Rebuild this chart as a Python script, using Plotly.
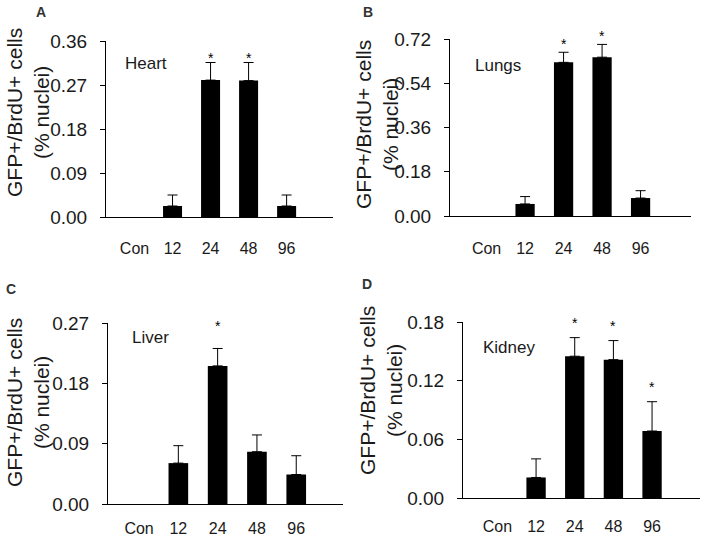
import plotly.graph_objects as go

W, H = 706, 539

# data
cats = ["Con", "12", "24", "48", "96"]

heart_mean = [0, 0.0225, 0.280, 0.279, 0.0225]
heart_err = [0, 0.0225, 0.036, 0.037, 0.0225]
heart_star = [False, False, True, True, False]

lungs_mean = [0, 0.049, 0.625, 0.646, 0.073]
lungs_err = [0, 0.030, 0.041, 0.052, 0.030]
lungs_star = [False, False, True, True, False]

liver_mean = [0, 0.061, 0.206, 0.078, 0.044]
liver_err = [0, 0.026, 0.026, 0.025, 0.028]
liver_star = [False, False, True, False, False]

kidney_mean = [0, 0.021, 0.145, 0.1415, 0.0685]
kidney_err = [0, 0.019, 0.019, 0.0195, 0.030]
kidney_star = [False, False, True, True, True]

heart_ticks = [0.00, 0.09, 0.18, 0.27, 0.36]
lungs_ticks = [0.00, 0.18, 0.36, 0.54, 0.72]
liver_ticks = [0.00, 0.09, 0.18, 0.27]
kidney_ticks = [0.00, 0.06, 0.12, 0.18]


def fx(p):
    return p / W


def fy(p):
    return 1 - p / H


FONT = "Liberation Sans, Arial, sans-serif"
TXT = "#1a1a1a"

# per panel: pixel box of the axes, x range, star shift and text positions
panels = [
    dict(letter="A", organ="Heart", mean=heart_mean, err=heart_err, star=heart_star,
         ticks=heart_ticks, box=(106, 333, 41, 217), xr=[-0.75, 5.22], sshift=5,
         lpos=(41, 12), tpos=(28, 113), opos=(123, 63), xstand=17),
    dict(letter="B", organ="Lungs", mean=lungs_mean, err=lungs_err, star=lungs_star,
         ticks=lungs_ticks, box=(450, 691, 39, 216), xr=[-0.95, 5.31], sshift=8,
         lpos=(368, 12), tpos=(377, 125), opos=(473, 65), xstand=18),
    dict(letter="C", organ="Liver", mean=liver_mean, err=liver_err, star=liver_star,
         ticks=liver_ticks, box=(108, 343, 323, 504), xr=[-0.79, 5.19], sshift=22,
         lpos=(11, 289), tpos=(28, 403), opos=(130, 337), xstand=10),
    dict(letter="D", organ="Kidney", mean=kidney_mean, err=kidney_err, star=kidney_star,
         ticks=kidney_ticks, box=(463, 700, 322, 498), xr=[-0.89, 5.24], sshift=15,
         lpos=(367, 284), tpos=(381, 391), opos=(481, 347), xstand=14),
]

fig = go.Figure()
annotations = []
layout = dict(
    width=W, height=H,
    margin=dict(l=0, r=0, t=0, b=0, pad=0, autoexpand=False),
    paper_bgcolor="white", plot_bgcolor="white",
    showlegend=False,
    font=dict(family=FONT, color=TXT),
)

for i, p in enumerate(panels):
    n = "" if i == 0 else str(i + 1)
    x0, x1, y0, y1 = p["box"]
    # zero (control) values draw nothing: no bar stub, no error cap on the axis
    yvals = [v if v > 0 else None for v in p["mean"]]
    fig.add_trace(go.Bar(
        x=cats, y=yvals, xaxis="x" + n, yaxis="y" + n,
        width=0.5,
        marker=dict(color="black", line=dict(width=0)),
        error_y=dict(type="data", array=p["err"], symmetric=False,
                     arrayminus=[0] * len(cats),
                     color="black", thickness=1, width=5),
    ))
    layout["xaxis" + n] = dict(
        domain=[fx(x0), fx(x1)], anchor="y" + n, type="category",
        categoryorder="array", categoryarray=cats, range=p["xr"],
        showline=True, linecolor="black", linewidth=1,
        ticks="", showgrid=False, zeroline=False, automargin=False,
        tickfont=dict(size=16, family=FONT, color=TXT),
        ticklabelstandoff=p["xstand"],
    )
    layout["yaxis" + n] = dict(
        domain=[fy(y1), fy(y0)], anchor="x" + n,
        range=[0, p["ticks"][-1]], tickvals=p["ticks"],
        ticktext=["%.2f" % t for t in p["ticks"]],
        showline=True, linecolor="black", linewidth=1,
        ticks="outside", ticklen=5, tickcolor="black",
        showgrid=False, zeroline=False, automargin=False,
        tickfont=dict(size=19, family=FONT, color=TXT),
        ticklabelstandoff=9,
    )
    # asterisks over the significant bars (x given as category index)
    for j, (m, e, s) in enumerate(zip(p["mean"], p["err"], p["star"])):
        if s:
            annotations.append(dict(
                x=j, y=m + e, xref="x" + n, yref="y" + n, text="*",
                showarrow=False, yshift=p["sshift"], yanchor="middle",
                font=dict(size=14, family=FONT, color="black"),
            ))
    # panel letter
    annotations.append(dict(
        x=fx(p["lpos"][0]), y=fy(p["lpos"][1]), xref="paper", yref="paper",
        text="<b>" + p["letter"] + "</b>", showarrow=False,
        xanchor="center", yanchor="middle",
        font=dict(size=14, family=FONT, color="#333333"),
    ))
    # y title
    annotations.append(dict(
        x=fx(p["tpos"][0]), y=fy(p["tpos"][1]), xref="paper", yref="paper",
        text="GFP+/BrdU+ cells<br>(% nuclei)", textangle=-90, showarrow=False,
        xanchor="center", yanchor="middle",
        font=dict(size=21, family=FONT, color=TXT),
    ))
    # organ name
    annotations.append(dict(
        x=fx(p["opos"][0]), y=fy(p["opos"][1]), xref="paper", yref="paper",
        text=p["organ"], showarrow=False, xanchor="left", yanchor="middle",
        font=dict(size=17, family=FONT, color=TXT),
    ))

layout["annotations"] = annotations
fig.update_layout(**layout)
# drop the browser's default 8px page margin so the figure fills the window
fig.write_html("out.html", config={"displayModeBar": False},
               post_script="document.body.style.margin='0';")
